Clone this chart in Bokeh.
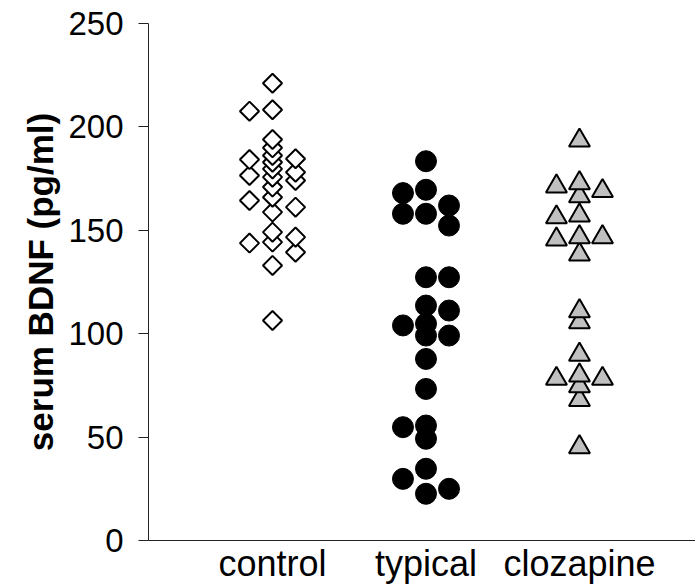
import math
from bokeh.plotting import figure
from bokeh.models import Range1d, FixedTicker, ColumnDataSource
from bokeh.transform import dodge
from bokeh.embed import file_html
from bokeh.resources import INLINE

categories = ["control", "typical", "clozapine"]
y_ticks = [0, 50, 100, 150, 200, 250]

# serum BDNF (pg/ml), split by the column each point sits in within its group
control_left = [207.6, 184.2, 176.5, 164.4, 143.8]
control_mid = [221.1, 208.3, 193.9, 189.9, 186.2, 182.9, 179.7, 175.7, 170.9,
               166.0, 158.8, 149.1, 144.3, 133.0, 106.4]
control_right = [184.6, 178.1, 174.1, 161.2, 146.7, 139.4]

typical_left = [168.0, 158.0, 104.0, 54.8, 29.8]
typical_mid = [183.4, 169.6, 158.0, 127.3, 113.6, 104.8, 99.1, 87.8, 73.3,
               55.6, 49.2, 34.7, 22.6]
typical_right = [162.0, 152.3, 127.3, 111.2, 99.1, 25.0]

clozapine_left = [171.2, 156.3, 145.6, 78.2]
clozapine_mid = [193.4, 172.8, 166.5, 157.2, 146.7, 138.3, 110.9, 105.6, 89.9,
                 79.8, 74.6, 68.0, 45.1]
clozapine_right = [169.0, 146.7, 78.2]

FONT = "Liberation Sans"
LANE = 0.15

p = figure(width=695, height=588, output_backend="svg", toolbar_location=None,
           x_range=Range1d(0.192, 3.756), y_range=Range1d(0, 250),
           min_border_left=148, min_border_right=0, min_border_top=23,
           min_border_bottom=48)
p.outline_line_color = None
p.xgrid.visible = False
p.ygrid.visible = False
p.background_fill_color = "white"
p.border_fill_color = "white"

styles = {
    "control": dict(marker="square", size=13.5, angle=math.pi / 4,
                    fill_color="white", line_color="black", line_width=2),
    "typical": dict(marker="circle", size=21, fill_color="black",
                    line_color="black", line_width=1),
    "clozapine": dict(marker="triangle", size=21, fill_color="#c0c0c0",
                      line_color="black", line_width=2),
}
lanes = {
    "control": (control_left, control_mid, control_right),
    "typical": (typical_left, typical_mid, typical_right),
    "clozapine": (clozapine_left, clozapine_mid, clozapine_right),
}

for gi, name in enumerate(categories, start=1):
    for lane, vals in zip((-1, 0, 1), lanes[name]):
        vs = sorted(vals)
        src = ColumnDataSource(dict(g=[gi] * len(vs), v=vs))
        p.scatter(x=dodge("g", lane * LANE), y="v", source=src, **styles[name])

# x axis
p.xaxis.ticker = FixedTicker(ticks=[1, 2, 3])
p.xaxis.major_label_overrides = {i + 1: c for i, c in enumerate(categories)}
p.xaxis.major_tick_out = 0
p.xaxis.major_tick_in = 0
p.xaxis.minor_tick_out = 0
p.xaxis.minor_tick_in = 0
p.xaxis.major_label_standoff = 2
p.xaxis.major_label_text_font = FONT
p.xaxis.major_label_text_font_size = "36px"
p.xaxis.major_label_text_color = "black"
p.xaxis.axis_line_color = "#222222"

# y axis
p.yaxis.ticker = FixedTicker(ticks=y_ticks)
p.yaxis.major_tick_out = 10
p.yaxis.major_tick_in = 0
p.yaxis.minor_tick_out = 0
p.yaxis.minor_tick_in = 0
p.yaxis.major_label_standoff = 15
p.yaxis.major_label_text_font = FONT
p.yaxis.major_label_text_font_size = "33px"
p.yaxis.major_label_text_color = "black"
p.yaxis.axis_line_color = "#222222"
p.yaxis.major_tick_line_color = "#222222"
p.yaxis.axis_label = "serum BDNF (pg/ml)"
p.yaxis.axis_label_text_font = FONT
p.yaxis.axis_label_text_font_style = "bold"
p.yaxis.axis_label_text_font_size = "35px"
p.yaxis.axis_label_text_color = "black"
p.yaxis.axis_label_standoff = 5

open("out.html", "w").write(file_html(p, INLINE))
